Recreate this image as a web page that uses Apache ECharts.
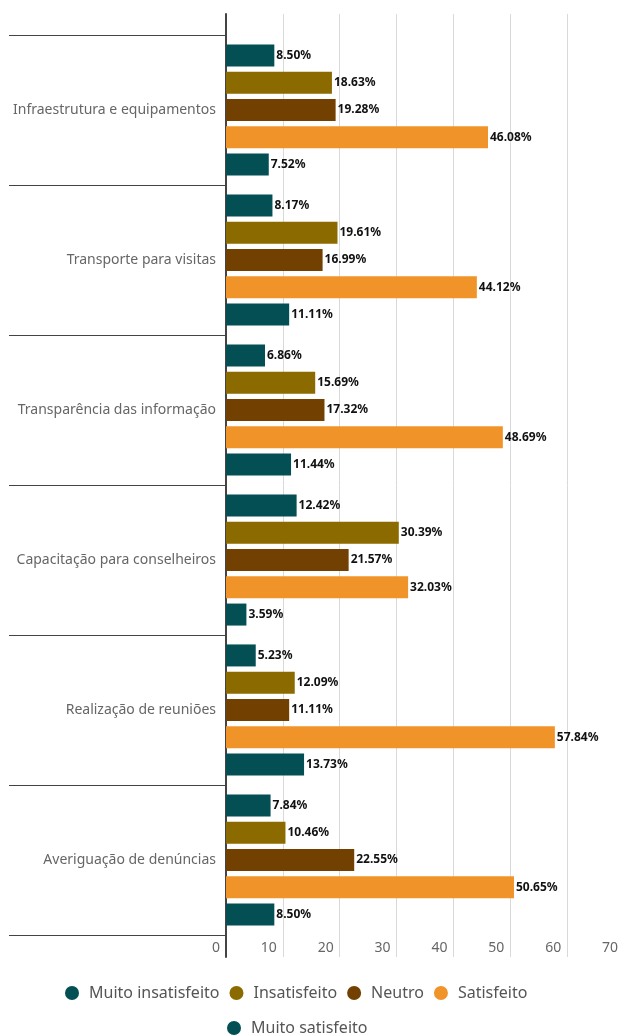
<!DOCTYPE html>
<html>
<head>
<meta charset="utf-8">
<script src="https://cdn.jsdelivr.net/npm/echarts@6/dist/echarts.min.js"></script>
<style>
  html, body { margin: 0; padding: 0; background: #ffffff; }
  #chart { width: 619px; height: 1036px; }
</style>
</head>
<body>
<div id="chart"></div>
<script>
// Survey categories (top to bottom)
const categories = [
  'Infraestrutura e equipamentos',
  'Transporte para visitas',
  'Transparência das informação',
  'Capacitação para conselheiros',
  'Realização de reuniões',
  'Averiguação de denúncias'
];

// Percentages per satisfaction level, one value per category
const muitoInsatisfeito = [8.50, 8.17, 6.86, 12.42, 5.23, 7.84];
const insatisfeito      = [18.63, 19.61, 15.69, 30.39, 12.09, 10.46];
const neutro            = [19.28, 16.99, 17.32, 21.57, 11.11, 22.55];
const satisfeito        = [46.08, 44.12, 48.69, 32.03, 57.84, 50.65];
const muitoSatisfeito   = [7.52, 11.11, 11.44, 3.59, 13.73, 8.50];

const seriesNames = ['Muito insatisfeito', 'Insatisfeito', 'Neutro', 'Satisfeito', 'Muito satisfeito'];
const seriesValues = [muitoInsatisfeito, insatisfeito, neutro, satisfeito, muitoSatisfeito];
const seriesColors = ['#034f54', '#8b6a00', '#724000', '#f0942a', '#034f54'];

// X axis range
const xMin = 0;
const xMax = 70;
const xStep = 10;

const FONT = 'Noto Sans';

const chart = echarts.init(document.getElementById('chart'), null, { renderer: 'canvas' });

const series = seriesNames.map((name, i) => ({
  name: name,
  type: 'bar',
  xAxisIndex: 0,
  yAxisIndex: 0,
  data: seriesValues[i],
  barWidth: 22,
  barGap: '24%',
  itemStyle: { color: seriesColors[i] },
  label: {
    show: true,
    position: 'right',
    distance: 2,
    formatter: p => p.value.toFixed(2) + '%',
    color: '#111111',
    fontFamily: FONT,
    fontWeight: 'bold',
    fontSize: 12
  },
  emphasis: { disabled: true }
}));

const legendCommon = {
  icon: 'circle',
  itemWidth: 14,
  itemHeight: 14,
  itemGap: 10,
  padding: 0,
  selectedMode: false,
  textStyle: {
    color: '#555555',
    fontFamily: FONT,
    fontSize: 16,
    padding: [0, 0, 0, 5]
  }
};

// plot area spans 0..70, with the 70 line just past the right edge
const plotLeft = 226;
const plotWidth = 398;

chart.setOption({
  animation: false,
  backgroundColor: '#ffffff',
  legend: [
    Object.assign({}, legendCommon, {
      left: 65,
      top: 985,
      data: seriesNames.slice(0, 4)
    }),
    Object.assign({}, legendCommon, {
      left: 227,
      top: 1020,
      data: seriesNames.slice(4)
    })
  ],
  grid: [
    // bars and category bands
    { left: plotLeft, width: plotWidth, top: 35, height: 900, containLabel: false, outerBoundsMode: 'none' },
    // gridlines and the vertical axis line, slightly taller than the bands
    { left: plotLeft, width: plotWidth, top: 14, height: 943, containLabel: false, outerBoundsMode: 'none' }
  ],
  xAxis: [
    {
      gridIndex: 0,
      type: 'value',
      min: xMin,
      max: xMax,
      interval: xStep,
      axisLine: { show: false },
      axisTick: { show: false },
      splitLine: { show: false },
      axisLabel: {
        margin: 6,
        align: 'right',
        padding: [0, 6, 0, 0],
        color: '#666666',
        fontFamily: FONT,
        fontSize: 14
      }
    },
    {
      gridIndex: 1,
      type: 'value',
      min: xMin,
      max: xMax,
      interval: xStep,
      axisLine: { show: false },
      axisTick: { show: false },
      axisLabel: { show: false },
      splitLine: { show: true, lineStyle: { color: '#d9d9d9', width: 1 } }
    }
  ],
  yAxis: [
    {
      gridIndex: 0,
      type: 'category',
      inverse: true,
      data: categories,
      axisLine: { show: false },
      axisTick: { show: true, length: 217, lineStyle: { color: '#444444', width: 1 } },
      axisLabel: {
        margin: 10,
        color: '#666666',
        fontFamily: FONT,
        fontSize: 14
      },
      splitLine: { show: false }
    },
    {
      gridIndex: 1,
      type: 'value',
      min: 0,
      max: 1,
      axisLine: { show: true, lineStyle: { color: '#444444', width: 2 } },
      axisTick: { show: false },
      axisLabel: { show: false },
      splitLine: { show: false }
    }
  ],
  series: series
});
</script>
</body>
</html>
